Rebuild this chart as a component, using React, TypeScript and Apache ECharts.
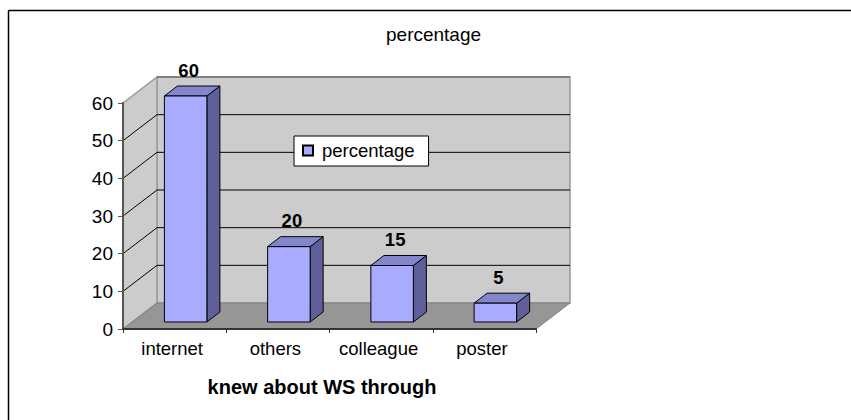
import React, { useEffect, useRef } from "react";
import * as echarts from "echarts";

const categories = ["internet", "others", "colleague", "poster"];
const percentage = [60, 20, 15, 5];
const yTicks = [0, 10, 20, 30, 40, 50, 60];
const seriesName = "percentage";
const axisTitle = "knew about WS through";

const FONT = "'Liberation Sans', Arial, sans-serif";
const DEPTH_X = 34;
const DEPTH_Y = -26;
const BAR_SHIFT_X = 11;
const BAR_SHIFT_Y = -7;
const BAR_WIDTH = 42.5;
const BAR_DEPTH_X = 13;
const BAR_DEPTH_Y = -10;

export default function App() {
  const ref = useRef<HTMLDivElement>(null);
  useEffect(() => {
    const chart = echarts.init(ref.current!, null, { renderer: "svg" });

    const renderWalls = (params: any, api: any) => {
      const cs = params.coordSys;
      const tick = api.value(1);
      const y = api.coord([0, tick])[1];
      const left = cs.x;
      const right = cs.x + cs.width;
      const top = cs.y;
      const bottom = cs.y + cs.height;
      const children: any[] = [];
      if (tick === 0) {
        const wallStyle = { fill: "#CCCCCC", stroke: "#999999", lineWidth: 1.5 };
        children.push(
          {
            type: "polygon",
            shape: { points: [[left + DEPTH_X, top + DEPTH_Y], [right + DEPTH_X, top + DEPTH_Y], [right + DEPTH_X, bottom + DEPTH_Y], [left + DEPTH_X, bottom + DEPTH_Y]] },
            style: wallStyle,
          },
          {
            type: "polygon",
            shape: { points: [[left, top], [left + DEPTH_X, top + DEPTH_Y], [left + DEPTH_X, bottom + DEPTH_Y], [left, bottom]] },
            style: wallStyle,
          },
          {
            type: "line",
            shape: { x1: left + DEPTH_X, y1: top + DEPTH_Y, x2: right + DEPTH_X, y2: top + DEPTH_Y },
            style: { stroke: "#808080", lineWidth: 2 },
          },
          {
            type: "polygon",
            shape: { points: [[left, bottom], [right, bottom], [right + DEPTH_X, bottom + DEPTH_Y], [left + DEPTH_X, bottom + DEPTH_Y]] },
            style: { fill: "#969696", stroke: "#808080", lineWidth: 1 },
          }
        );
      } else if (tick !== yTicks[yTicks.length - 1]) {
        children.push(
          {
            type: "line",
            shape: { x1: left, y1: y, x2: left + DEPTH_X, y2: y + DEPTH_Y },
            style: { stroke: "#000000", lineWidth: 1 },
          },
          {
            type: "line",
            shape: { x1: left + DEPTH_X, y1: y + DEPTH_Y, x2: right + DEPTH_X, y2: y + DEPTH_Y },
            style: { stroke: "#000000", lineWidth: 1 },
          }
        );
      }
      return { type: "group", children };
    };

    const renderBar = (_params: any, api: any) => {
      const value = api.value(1);
      const cx = api.coord([api.value(0), 0])[0];
      const base = api.coord([api.value(0), 0])[1] + BAR_SHIFT_Y;
      const top = api.coord([api.value(0), value])[1] + BAR_SHIFT_Y;
      const x0 = cx + BAR_SHIFT_X - BAR_WIDTH / 2;
      const x1 = x0 + BAR_WIDTH;
      const edge = { stroke: "#000000", lineWidth: 1, lineJoin: "round" };
      return {
        type: "group",
        children: [
          {
            type: "polygon",
            shape: { points: [[x1, base], [x1 + BAR_DEPTH_X, base + BAR_DEPTH_Y], [x1 + BAR_DEPTH_X, top + BAR_DEPTH_Y], [x1, top]] },
            style: { fill: "#5F6099", ...edge },
          },
          {
            type: "polygon",
            shape: { points: [[x0, top], [x1, top], [x1 + BAR_DEPTH_X, top + BAR_DEPTH_Y], [x0 + BAR_DEPTH_X, top + BAR_DEPTH_Y]] },
            style: { fill: "#8486CC", ...edge },
          },
          {
            type: "rect",
            shape: { x: x0, y: top, width: BAR_WIDTH, height: base - top },
            style: { fill: "#A9ABFF", ...edge },
          },
          {
            type: "text",
            x: cx + BAR_SHIFT_X + 3,
            y: top - 26,
            style: {
              text: String(value),
              fill: "#000000",
              font: `bold 18.5px ${FONT}`,
              align: "center",
              verticalAlign: "middle",
            },
          },
        ],
      };
    };

    chart.setOption({
      animation: false,
      backgroundColor: "#FFFFFF",
      textStyle: { fontFamily: FONT },
      title: {
        text: seriesName,
        left: 381,
        top: 20,
        textStyle: { fontFamily: FONT, fontSize: 19, fontWeight: "normal", color: "#000000" },
      },
      legend: {
        left: 294,
        top: 136,
        data: [seriesName],
        backgroundColor: "#FFFFFF",
        borderColor: "#000000",
        borderWidth: 1,
        borderRadius: 0,
        padding: [5, 14, 6, 8],
        itemWidth: 10,
        itemHeight: 10,
        icon: "rect",
        selectedMode: false,
        textStyle: { fontFamily: FONT, fontSize: 18.5, color: "#000000", padding: [0, 0, 0, 4] },
      },
      grid: { left: 123, right: 315, top: 103, bottom: 91 },
      xAxis: {
        type: "category",
        data: categories,
        boundaryGap: true,
        z: 5,
        axisLine: { lineStyle: { color: "#333333", width: 2 } },
        axisTick: { show: true, alignWithLabel: false, length: 4, lineStyle: { color: "#333333" } },
        axisLabel: { fontFamily: FONT, fontSize: 18.5, color: "#000000", margin: 10, padding: [0, 5, 0, 0] },
        name: axisTitle,
        nameLocation: "middle",
        nameGap: 48,
        nameTextStyle: { fontFamily: FONT, fontSize: 20, fontWeight: "bold", color: "#000000", padding: [0, 15, 0, 0] },
      },
      yAxis: {
        type: "value",
        min: 0,
        max: 60,
        interval: 10,
        z: 5,
        axisLine: { show: true, lineStyle: { color: "#555555", width: 2 } },
        axisTick: { show: true, length: 5, lineStyle: { color: "#555555" } },
        axisLabel: { fontFamily: FONT, fontSize: 19, color: "#000000", margin: 10 },
        splitLine: { show: false },
      },
      graphic: [
        { type: "line", shape: { x1: 8.5, y1: 10.5, x2: 851, y2: 10.5 }, style: { stroke: "#000000", lineWidth: 1.5 }, silent: true },
        { type: "line", shape: { x1: 8.5, y1: 10.5, x2: 8.5, y2: 420 }, style: { stroke: "#000000", lineWidth: 1.5 }, silent: true },
      ],
      series: [
        {
          type: "custom",
          name: "walls",
          silent: true,
          clip: false,
          z: 1,
          renderItem: renderWalls,
          data: yTicks.map((t) => [0, t]),
          encode: { x: 0, y: 1 },
        },
        {
          type: "custom",
          name: seriesName,
          silent: true,
          clip: false,
          z: 3,
          renderItem: renderBar,
          itemStyle: { color: "#A9ABFF", borderColor: "#000000", borderWidth: 1 },
          data: percentage.map((v, i) => [i, v]),
          encode: { x: 0, y: 1 },
        },
      ],
    });
    return () => chart.dispose();
  }, []);
  return <div ref={ref} style={{ position: "absolute", left: 0, top: 0, width: 851, height: 420 }} />;
}
